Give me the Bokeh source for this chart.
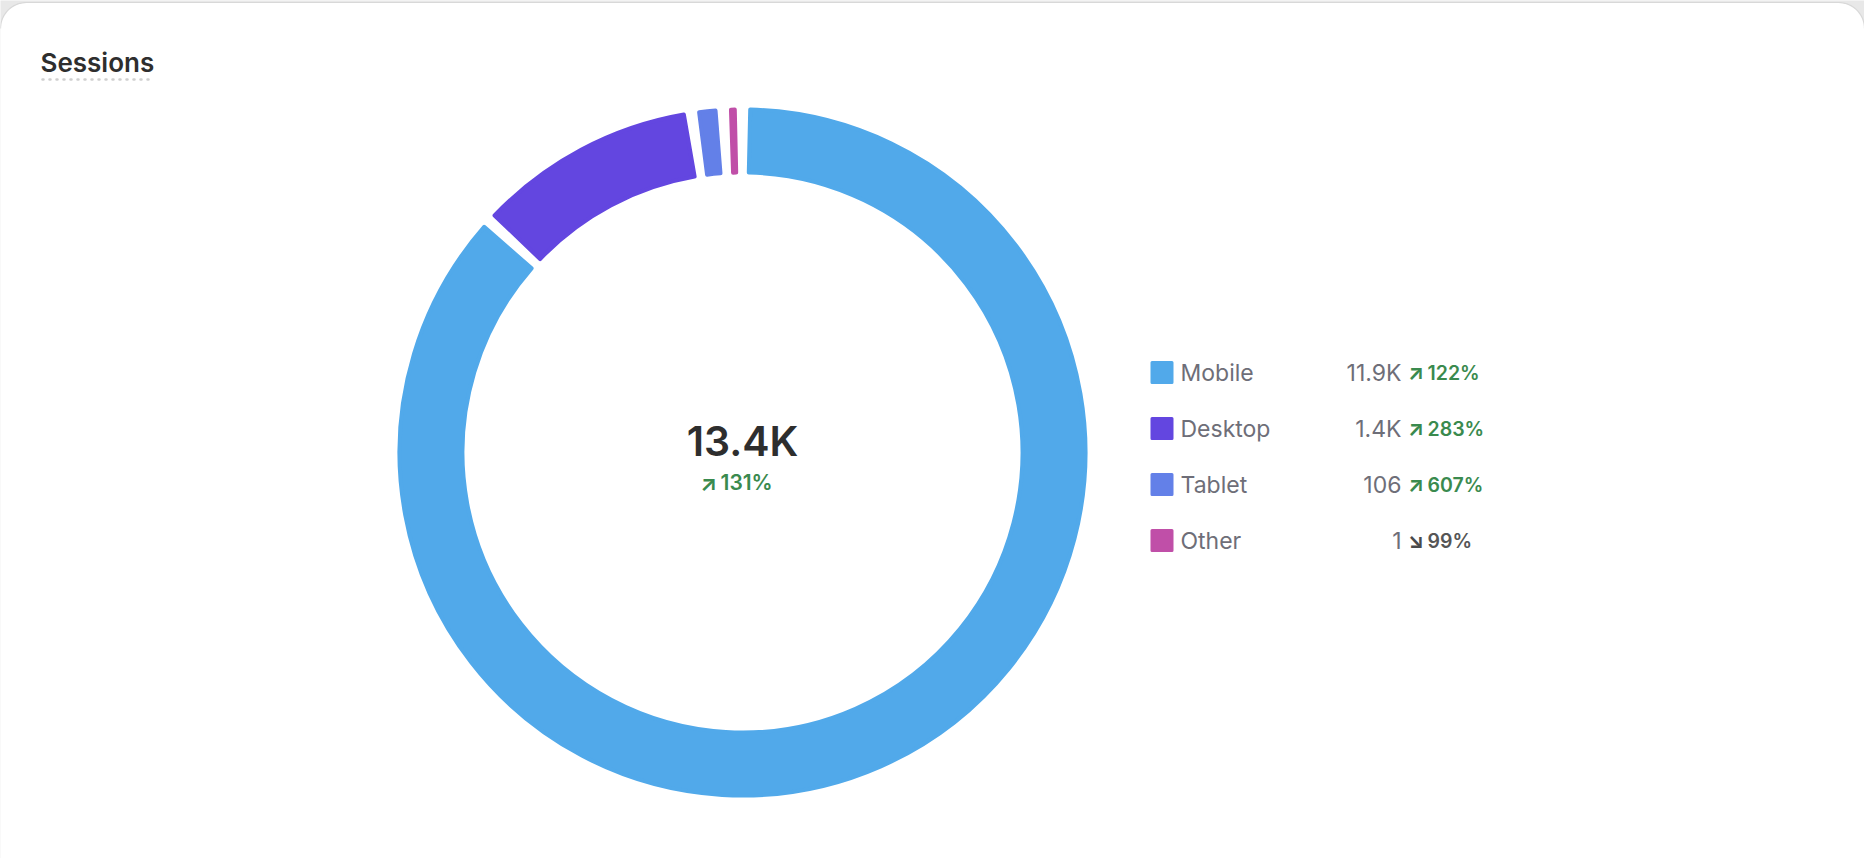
import numpy as np
from bokeh.plotting import figure
from bokeh.models import ColumnDataSource, Range1d
from bokeh.core.properties import value
from bokeh.embed import file_html
from bokeh.resources import INLINE

# ---------------- data ----------------
categories = ["Mobile", "Desktop", "Tablet", "Other"]
sessions = [11900, 1400, 106, 1]
value_labels = ["11.9K", "1.4K", "106", "1"]
change_labels = ["122%", "283%", "607%", "99%"]
change_up = [True, True, True, False]
colors = ["#51A9EA", "#6346E0", "#6380E8", "#C04FA8"]
total_label = "13.4K"
total_change = "131%"
title_text = "Sessions"

W, H = 1864, 858
FONT = "Inter"
SEMI = "Inter SemiBold"
GREEN = "#3A8A4E"
GRAY = "#6E6E78"
DARK = "#2E2E2E"


def Y(ys):
    return H - ys


p = figure(width=W, height=H, x_range=Range1d(0, W), y_range=Range1d(0, H),
           x_axis_type=None, y_axis_type=None, output_backend="svg",
           toolbar_location=None, min_border=0)
p.grid.visible = False
p.outline_line_color = None
p.background_fill_color = "#E8E8E8"
p.border_fill_color = "#E8E8E8"

# ---------------- card background ----------------
r = 26
top = 2
t = np.linspace(0, np.pi / 2, 20)
cxs = list(r - r * np.cos(t)) + list(W - r + r * np.sin(t))
cys = list(top + r - r * np.sin(t)) + list(top + r - r * np.cos(t))
p.patch(cxs + [W + 5, W + 5, -5, -5], [Y(v) for v in cys + [top + r, H + 40, H + 40, top + r]],
        fill_color="white", line_color=None)
p.line(cxs, [Y(v) for v in cys], line_color="#D8D8D8", line_width=1.2)

# ---------------- title ----------------
p.text(x=[40], y=[Y(62)], text=[title_text], text_font=value(SEMI), text_font_size="26px",
       text_color=DARK, text_baseline="middle", text_align="left")
p.line([42, 152], [Y(79), Y(79)], line_color="#CFCFCF", line_width=2.5,
       line_dash="1 6", line_cap="round")

# ---------------- donut ----------------
cx, cy = 742, Y(452)
r_out, r_in = 345, 278
stroke = 4
mid = (r_out + r_in) / 2
pad = (10 + stroke) / mid
min_vis = 3.5 / mid
vals = np.array(sessions, dtype=float)
shares = vals / vals.sum()
n = len(vals)
available = 2 * np.pi - n * pad
vis = shares * available
small = vis < min_vis
rest = available - small.sum() * min_vis
vis = np.where(small, min_vis, shares / shares[~small].sum() * rest)
starts, ends = [], []
th = pad / 2
for v in vis:
    starts.append(np.pi / 2 - th)
    ends.append(np.pi / 2 - (th + v))
    th += v + pad

src = ColumnDataSource(dict(x=[cx] * n, y=[cy] * n, start=starts, end=ends, color=colors))
p.annular_wedge(x="x", y="y", inner_radius=r_in + stroke / 2, outer_radius=r_out - stroke / 2,
                start_angle="start", end_angle="end", direction="clock",
                fill_color="color", line_color="color", line_width=stroke,
                line_join="round", source=src)

# ---------------- center label ----------------
p.text(x=[cx], y=[Y(440)], text=[total_label], text_font=value(SEMI), text_font_size="41px",
       text_color=DARK, text_align="center", text_baseline="middle")
p.text(x=[708], y=[Y(482)], text=["↗"], text_font=value(FONT), text_font_size="22px",
       text_font_style="bold", text_color=GREEN, text_align="center", text_baseline="middle")
p.text(x=[720], y=[Y(482)], text=[total_change], text_font=value(SEMI), text_font_size="21px",
       text_color=GREEN, text_align="left", text_baseline="middle")

# ---------------- legend ----------------
row_y = [Y(372 + 56 * i) for i in range(n)]
arrow = ["↗" if u else "↘" for u in change_up]
chg_color = [GREEN if u else "#4A4A4A" for u in change_up]
pct_color = [GREEN if u else "#555555" for u in change_up]
leg = ColumnDataSource(dict(
    y=row_y, cat=categories, val=value_labels, chg=change_labels, arrow=arrow,
    color=colors, ac=chg_color, pc=pct_color,
    sx=[1161.5] * n, lx=[1180] * n, vx=[1401] * n, ax=[1415.5] * n, px=[1427] * n))
p.rect(x="sx", y="y", width=20, height=20, fill_color="color", line_color="color",
       line_width=3, line_join="round", source=leg)
p.text(x="lx", y="y", text="cat", text_font=value(FONT), text_font_size="23px",
       text_color=GRAY, text_baseline="middle", text_align="left", source=leg)
p.text(x="vx", y="y", text="val", text_font=value(FONT), text_font_size="23px",
       text_color=GRAY, text_baseline="middle", text_align="right", source=leg)
p.text(x="ax", y="y", text="arrow", text_font=value(FONT), text_font_size="21px",
       text_font_style="bold", text_color="ac", text_baseline="middle", text_align="center",
       source=leg)
p.text(x="px", y="y", text="chg", text_font=value(SEMI), text_font_size="19.5px",
       text_color="pc", text_baseline="middle", text_align="left", source=leg)

open("out.html", "w").write(file_html(p, INLINE))
